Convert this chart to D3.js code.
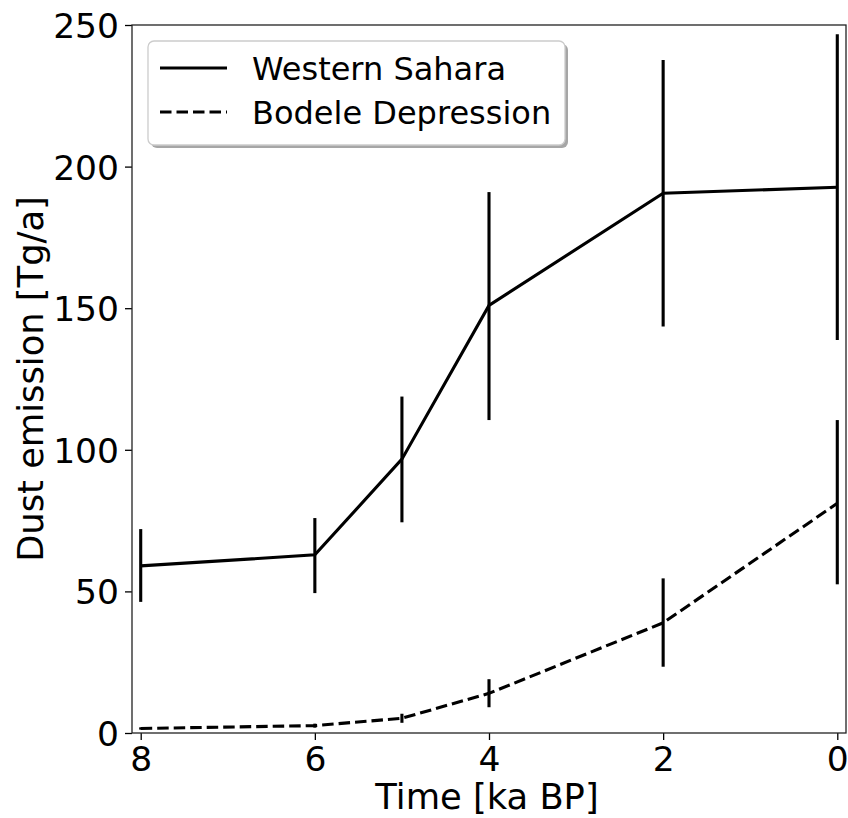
<!DOCTYPE html>
<html>
<head>
<meta charset="utf-8">
<script src="https://cdn.jsdelivr.net/npm/d3@7"></script>
<style>
  html, body { margin: 0; padding: 0; background: #fff; }
  svg { display: block; font-family: "DejaVu Sans", sans-serif; }
</style>
</head>
<body>
<svg id="chart" width="848" height="818"></svg>
<script>
// ---- data ----
const times = [8, 6, 5, 4, 2, 0];
const sahara = [59.0, 62.9, 96.7, 151.0, 190.6, 192.7];
const saharaLow = [46.3, 49.4, 74.4, 110.5, 143.5, 138.8];
const saharaHigh = [72.0, 75.9, 118.8, 191.0, 237.6, 246.7];
const bodele = [1.6, 2.6, 5.2, 14.0, 38.9, 81.1];
const bodeleLow = [1.2, 1.9, 3.6, 9.1, 23.4, 52.5];
const bodeleHigh = [2.0, 3.3, 6.8, 19.0, 54.6, 110.5];
const xTicks = [8, 6, 4, 2, 0];
const yTicks = [0, 50, 100, 150, 200, 250];
const seriesNames = ["Western Sahara", "Bodele Depression"];

// ---- layout ----
const svg = d3.select("#chart");
const L = 132, R = 846, T = 25, B = 733;
const x = d3.scaleLinear().domain([8.1, -0.1]).range([L, R]);
const y = d3.scaleLinear().domain([0, 250]).range([B, T]);

const tickFont = 34.5;
const labelFont = 35.3;

// axes
const xAxis = svg.append("g").attr("transform", `translate(0,${B})`)
  .call(d3.axisBottom(x).tickValues(xTicks).tickSize(7).tickPadding(4).tickFormat(d3.format("d")));
const yAxis = svg.append("g").attr("transform", `translate(${L},0)`)
  .call(d3.axisLeft(y).tickValues(yTicks).tickSize(7).tickPadding(6).tickFormat(d3.format("d")));
[xAxis, yAxis].forEach(g => {
  g.select(".domain").remove();
  g.selectAll(".tick line").attr("stroke", "#000").attr("stroke-width", 1.3);
  g.selectAll(".tick text").attr("fill", "#000").style("font-size", tickFont + "px")
    .style("font-family", "DejaVu Sans, sans-serif");
});
xAxis.selectAll(".tick text").attr("dy", "0.78em");
yAxis.selectAll(".tick text").attr("dy", "0.36em");

// frame
svg.append("rect").attr("x", L).attr("y", T).attr("width", R - L).attr("height", B - T)
  .attr("fill", "none").attr("stroke", "#222").attr("stroke-width", 1.3);

// clip
svg.append("clipPath").attr("id", "clip").append("rect")
  .attr("x", L).attr("y", T).attr("width", R - L).attr("height", B - T);
const plot = svg.append("g").attr("clip-path", "url(#clip)");

const line = d3.line().x(d => x(d[0])).y(d => y(d[1]));

function drawSeries(vals, lo, hi, dash) {
  plot.append("path")
    .datum(times.map((t, i) => [t, vals[i]]))
    .attr("d", line).attr("fill", "none").attr("stroke", "#000")
    .attr("stroke-width", 3.1).attr("stroke-dasharray", dash)
    .attr("stroke-linejoin", "miter");
  plot.selectAll(null).data(times.map((t, i) => [t, lo[i], hi[i]])).enter()
    .append("line")
    .attr("x1", d => x(d[0])).attr("x2", d => x(d[0]))
    .attr("y1", d => y(d[1])).attr("y2", d => y(d[2]))
    .attr("stroke", "#000").attr("stroke-width", 3.1);
}
drawSeries(sahara, saharaLow, saharaHigh, null);
drawSeries(bodele, bodeleLow, bodeleHigh, "11.5,5");

// labels
svg.append("text").attr("x", (L + R) / 2 - 2).attr("y", 809)
  .attr("text-anchor", "middle").style("font-size", labelFont + "px").attr("fill", "#000")
  .text("Time [ka BP]");
svg.append("text").attr("transform", `translate(43,${(T + B) / 2}) rotate(-90)`)
  .attr("text-anchor", "middle").style("font-size", labelFont + "px").attr("fill", "#000")
  .text("Dust emission [Tg/a]");

// legend
const lg = svg.append("g");
const lx = 148, ly = 41, lw = 417, lh = 104;
lg.append("rect").attr("x", lx + 3).attr("y", ly + 3).attr("width", lw).attr("height", lh)
  .attr("rx", 6).attr("fill", "#a6a6a6");
lg.append("rect").attr("x", lx).attr("y", ly).attr("width", lw).attr("height", lh)
  .attr("rx", 6).attr("fill", "#fff").attr("stroke", "#cccccc").attr("stroke-width", 1.3);
const rows = [{ name: seriesNames[0], dash: null, yy: 68 }, { name: seriesNames[1], dash: "11.5,5", yy: 112 }];
rows.forEach(r => {
  lg.append("line").attr("x1", 160).attr("x2", 227).attr("y1", r.yy).attr("y2", r.yy)
    .attr("stroke", "#000").attr("stroke-width", 3.1).attr("stroke-dasharray", r.dash);
  lg.append("text").attr("x", 252).attr("y", r.yy).attr("dy", "0.36em")
    .style("font-size", "32px").attr("fill", "#000").text(r.name);
});
</script>
</body>
</html>
